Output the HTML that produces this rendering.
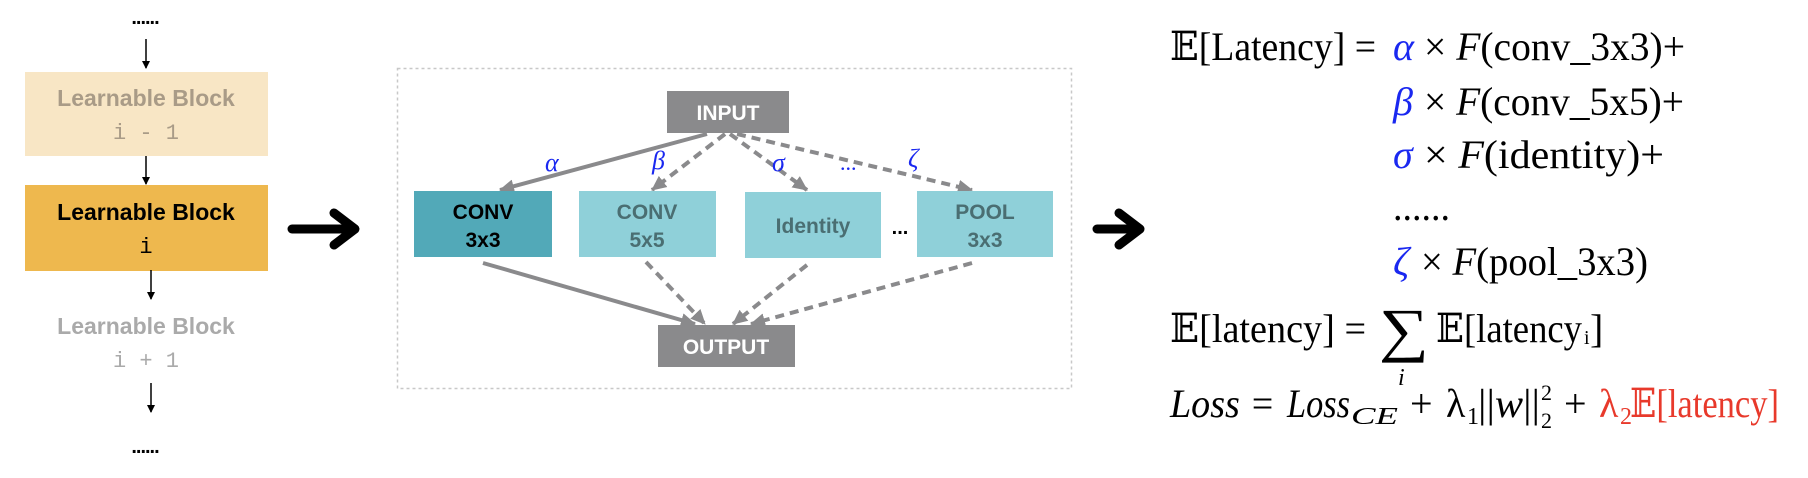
<!DOCTYPE html>
<html><head><meta charset="utf-8"><style>
html,body{margin:0;padding:0;background:#fff;}
svg{display:block}
.sans{font-family:"Liberation Sans",Arial,sans-serif;font-weight:bold;}
.mono{font-family:"Liberation Mono","DejaVu Sans Mono",monospace;}
.m{font-family:"Liberation Serif","DejaVu Serif",serif;font-size:40px;fill:#000;}
.g{fill:#1a28f0;font-style:italic;}
</style></head><body>
<svg width="1808" height="478" viewBox="0 0 1808 478" xmlns="http://www.w3.org/2000/svg">
<defs>
<marker id="ak" markerWidth="8" markerHeight="8" refX="7" refY="4" orient="auto" markerUnits="userSpaceOnUse"><path d="M0,0 L8,4 L0,8 z" fill="#000"/></marker>
<marker id="ag" markerWidth="16" markerHeight="16" refX="14" refY="8" orient="auto" markerUnits="userSpaceOnUse"><path d="M0,1 L15,8 L0,15 z" fill="#8a8a8c"/></marker>
</defs>
<text x="145" y="24" text-anchor="middle" font-size="20" font-family="Liberation Sans" font-weight="bold" letter-spacing="-1">......</text>
<line x1="146" y1="39" x2="146" y2="68" stroke="#000" stroke-width="1.5" marker-end="url(#ak)"/>
<rect x="25" y="72" width="243" height="84" fill="#f8e6c5"/>
<text x="146" y="106" text-anchor="middle" class="sans" font-size="23" fill="#a99b87">Learnable Block</text>
<text x="146" y="139" text-anchor="middle" class="mono" font-size="22" fill="#a99b87">i - 1</text>
<line x1="146" y1="156" x2="146" y2="184" stroke="#000" stroke-width="1.5" marker-end="url(#ak)"/>
<rect x="25" y="185" width="243" height="86" fill="#eeb84e"/>
<text x="146" y="220" text-anchor="middle" class="sans" font-size="23" fill="#000">Learnable Block</text>
<text x="146" y="253" text-anchor="middle" class="mono" font-size="22" fill="#000">i</text>
<line x1="151" y1="270" x2="151" y2="299" stroke="#000" stroke-width="1.5" marker-end="url(#ak)"/>
<text x="146" y="334" text-anchor="middle" class="sans" font-size="23" fill="#aaaaaa">Learnable Block</text>
<text x="146" y="367" text-anchor="middle" class="mono" font-size="22" fill="#aaaaaa">i + 1</text>
<line x1="151" y1="383" x2="151" y2="412" stroke="#000" stroke-width="1.5" marker-end="url(#ak)"/>
<text x="145" y="453" text-anchor="middle" font-size="20" font-family="Liberation Sans" font-weight="bold" letter-spacing="-1">......</text>
<g stroke="#000" stroke-width="9" fill="none" stroke-linecap="round" stroke-linejoin="round">
<line x1="292" y1="229" x2="353" y2="229"/><polyline points="334,213 355,229 334,245"/>
<line x1="1097" y1="229" x2="1138" y2="229"/><polyline points="1119,213 1140,229 1119,245"/>
</g>
<rect x="397.5" y="68.5" width="674" height="320" fill="none" stroke="#c8c8c8" stroke-width="1.5" stroke-dasharray="3,3"/>
<g stroke="#8a8a8c" stroke-width="4" fill="none">
<line x1="707" y1="134" x2="500" y2="190" marker-end="url(#ag)"/>
<line x1="725" y1="134" x2="652" y2="190" stroke-dasharray="9,6" marker-end="url(#ag)"/>
<line x1="730" y1="134" x2="807" y2="190" stroke-dasharray="9,6" marker-end="url(#ag)"/>
<line x1="737" y1="134" x2="972" y2="190" stroke-dasharray="9,6" marker-end="url(#ag)"/>
<line x1="483" y1="263" x2="695" y2="324" marker-end="url(#ag)"/>
<line x1="646" y1="262" x2="705" y2="324" stroke-dasharray="9,6" marker-end="url(#ag)"/>
<line x1="807" y1="265" x2="733" y2="324" stroke-dasharray="9,6" marker-end="url(#ag)"/>
<line x1="972" y1="263" x2="751" y2="324" stroke-dasharray="9,6" marker-end="url(#ag)"/>
</g>
<rect x="667" y="91" width="122" height="42" fill="#8a8a8c"/>
<text x="728" y="120" text-anchor="middle" class="sans" font-size="21" fill="#fff">INPUT</text>
<rect x="414" y="191" width="138" height="66" fill="#52a9b8"/>
<text x="483" y="219" text-anchor="middle" class="sans" font-size="21" fill="#000">CONV</text>
<text x="483" y="247" text-anchor="middle" class="sans" font-size="21" fill="#000">3x3</text>
<rect x="579" y="191" width="137" height="66" fill="#8fd0d9"/>
<text x="647" y="219" text-anchor="middle" class="sans" font-size="21" fill="#4a6e72">CONV</text>
<text x="647" y="247" text-anchor="middle" class="sans" font-size="21" fill="#4a6e72">5x5</text>
<rect x="745" y="192" width="136" height="66" fill="#8fd0d9"/>
<text x="813" y="233" text-anchor="middle" class="sans" font-size="21" fill="#4a6e72">Identity</text>
<text x="900" y="234" text-anchor="middle" class="sans" font-size="20" fill="#000">...</text>
<rect x="917" y="191" width="136" height="66" fill="#8fd0d9"/>
<text x="985" y="219" text-anchor="middle" class="sans" font-size="21" fill="#4a6e72">POOL</text>
<text x="985" y="247" text-anchor="middle" class="sans" font-size="21" fill="#4a6e72">3x3</text>
<rect x="658" y="325" width="137" height="42" fill="#8a8a8c"/>
<text x="726" y="354" text-anchor="middle" class="sans" font-size="21" fill="#fff">OUTPUT</text>
<g font-family="Liberation Serif,DejaVu Serif,serif" font-size="26" font-style="italic" fill="#1a28f0">
<text x="545" y="171">α</text><text x="652" y="169">β</text><text x="772" y="171">σ</text>
<text x="840" y="170" font-style="normal" font-size="22">...</text><text x="908" y="167">ζ</text>
</g>
<g class="m">
<text x="1170" y="60" textLength="206" lengthAdjust="spacingAndGlyphs">𝔼[Latency] =</text>
<text x="1393" y="60" class="g">α</text>
<text x="1424" y="60" textLength="261" lengthAdjust="spacingAndGlyphs">× <tspan font-style="italic">F</tspan>(conv_3x3)+</text>
<text x="1393" y="115" class="g">β</text>
<text x="1424" y="115" textLength="260" lengthAdjust="spacingAndGlyphs">× <tspan font-style="italic">F</tspan>(conv_5x5)+</text>
<text x="1393" y="168" class="g">σ</text>
<text x="1424" y="168" textLength="240" lengthAdjust="spacingAndGlyphs">× <tspan font-style="italic">F</tspan>(identity)+</text>
<text x="1393" y="220" textLength="57" lengthAdjust="spacingAndGlyphs">......</text>
<text x="1393" y="275" class="g">ζ</text>
<text x="1421" y="275" textLength="227" lengthAdjust="spacingAndGlyphs">× <tspan font-style="italic">F</tspan>(pool_3x3)</text>
<text x="1170" y="342" textLength="196" lengthAdjust="spacingAndGlyphs">𝔼[latency] =</text>
<text x="1379" y="350" font-size="60" textLength="50" lengthAdjust="spacingAndGlyphs">∑</text>
<text x="1436" y="342" textLength="146" lengthAdjust="spacingAndGlyphs">𝔼[latency</text>
<text x="1584" y="344" font-size="20">i</text>
<text x="1590" y="342">]</text>
<text x="1398" y="385" font-size="24" font-style="italic">i</text>
<text x="1170" y="417" font-style="italic" textLength="105" lengthAdjust="spacingAndGlyphs">Loss =</text>
<text x="1287" y="417" font-style="italic" textLength="63" lengthAdjust="spacingAndGlyphs">Loss</text>
<text x="1351" y="424" font-size="24" font-style="italic" textLength="47" lengthAdjust="spacingAndGlyphs">CE</text>
<text x="1410" y="417">+</text>
<text x="1446" y="417">λ</text>
<text x="1467" y="424" font-size="24">1</text>
<text x="1478" y="417" textLength="62" lengthAdjust="spacingAndGlyphs">||<tspan font-style="italic">w</tspan>||</text>
<text x="1541" y="400" font-size="22">2</text>
<text x="1541" y="428" font-size="22">2</text>
<text x="1564" y="417">+</text>
<g fill="#e8392b">
<text x="1599" y="417">λ</text>
<text x="1620" y="424" font-size="24">2</text>
<text x="1630" y="417" textLength="149" lengthAdjust="spacingAndGlyphs">𝔼[latency]</text>
</g>
</g>
</svg>
</body></html>
